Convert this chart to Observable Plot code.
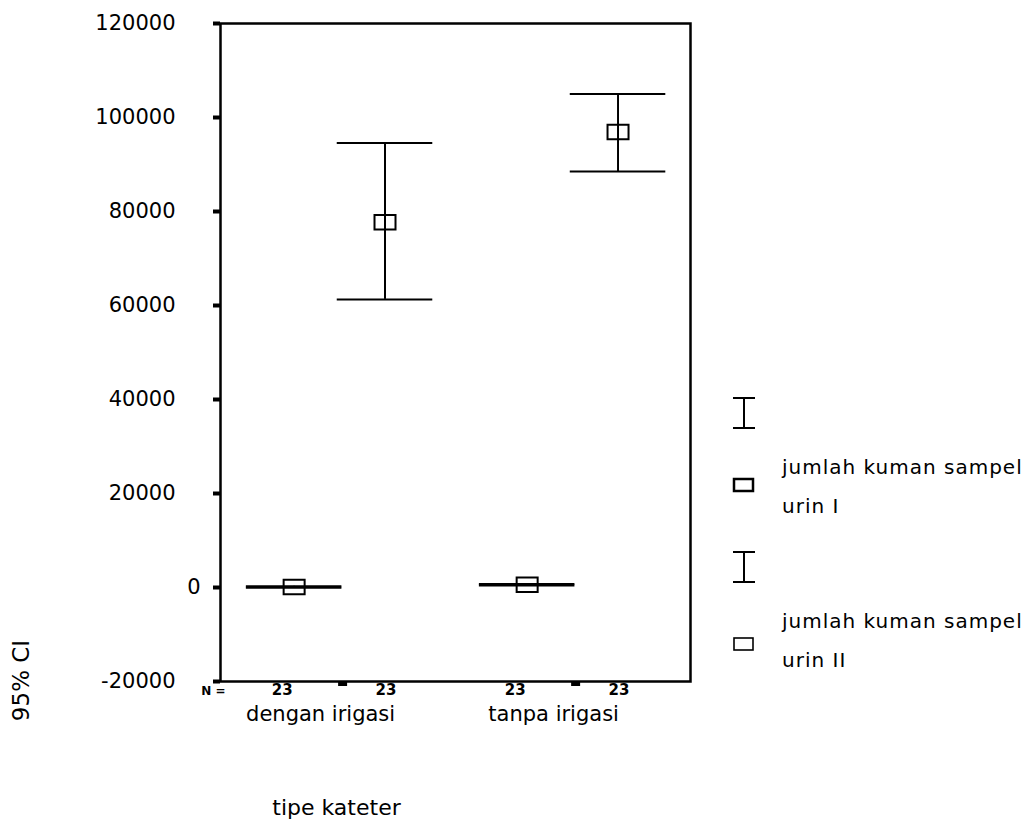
<!DOCTYPE html>
<html>
<head>
<meta charset="utf-8">
<script src="https://cdn.jsdelivr.net/npm/d3@7"></script>
<script src="https://cdn.jsdelivr.net/npm/@observablehq/plot@0.6"></script>
<style>
  html, body { margin: 0; padding: 0; background: #fff; }
  #chart svg { display: block; }
  #chart text { font-family: "DejaVu Sans", sans-serif; fill: #000; }
</style>
</head>
<body>
<div id="chart"></div>
<script>
// ---- data ----
const groups = ["dengan irigasi", "tanpa irigasi"];
const seriesNames = ["jumlah kuman sampel urin I", "jumlah kuman sampel urin II"];
const legendLines = [["jumlah kuman sampel", "urin I"], ["jumlah kuman sampel", "urin II"]];
const meanUrin1 = [100, 600];
const lowUrin1 = [-50, 450];
const highUrin1 = [250, 750];
const meanUrin2 = [77700, 96900];
const lowUrin2 = [61300, 88500];
const highUrin2 = [94600, 105000];
const nUrin1 = [23, 23];
const nUrin2 = [23, 23];
const yTicks = [-20000, 0, 20000, 40000, 60000, 80000, 100000, 120000];
const xAxisTitle = "tipe kateter";
const yAxisTitle = "95% CI";

// ---- build table ----
const rows = [];
groups.forEach((g, gi) => {
  rows.push({group: g, gi, si: 0, mean: meanUrin1[gi], low: lowUrin1[gi], high: highUrin1[gi], n: nUrin1[gi]});
  rows.push({group: g, gi, si: 1, mean: meanUrin2[gi], low: lowUrin2[gi], high: highUrin2[gi], n: nUrin2[gi]});
});
const seriesOffset = [-0.208, 0.182];
const pos = d => d.gi + 0.5 + seriesOffset[d.si];
const capHalf = 0.205;

const boxSymbol = {
  draw(ctx, size) {
    const r = Math.sqrt(size / Math.PI);
    ctx.rect(-1.05 * r, -0.72 * r, 2.1 * r, 1.44 * r);
  }
};

const W = 1032, H = 839;
const chart = Plot.plot({
  width: W,
  height: H,
  marginLeft: 220,
  marginRight: 342,
  marginTop: 23,
  marginBottom: 158,
  style: {background: "white", color: "black", fontFamily: "DejaVu Sans, sans-serif"},
  x: {type: "linear", domain: [-0.024, 1.993], axis: null},
  y: {domain: [-20000, 120000], axis: null},
  marks: [
    Plot.frame({stroke: "black", strokeWidth: 2.5}),
    // y axis ticks + labels
    Plot.axisY({ticks: yTicks, tickSize: 7, strokeWidth: 4, text: null, label: null}),
    Plot.axisY({ticks: yTicks.filter(t => t !== 0), tickSize: 0, tickPadding: 45, fontSize: 21,
                letterSpacing: "0.5px", tickFormat: d => String(d), label: null}),
    Plot.axisY({ticks: [0], tickSize: 0, tickPadding: 20, fontSize: 21, tickFormat: d => String(d), label: null}),
    // x axis ticks + category labels
    Plot.axisX({ticks: [0.5, 1.5], tickSize: 5, strokeWidth: 9, text: null, label: null}),
    Plot.axisX({ticks: [0.5, 1.5], tickSize: 0, tickPadding: 25, fontSize: 21, dx: -22,
                letterSpacing: "0.4px", tickFormat: v => groups[Math.round(v - 0.5)], label: null}),
    // error bars
    Plot.ruleX(rows, {x: pos, y1: "low", y2: "high", stroke: "black", strokeWidth: 2}),
    Plot.ruleY(rows, {y: "high", x1: d => pos(d) - capHalf, x2: d => pos(d) + capHalf, stroke: "black", strokeWidth: 2}),
    Plot.ruleY(rows, {y: "low", x1: d => pos(d) - capHalf, x2: d => pos(d) + capHalf, stroke: "black", strokeWidth: 2}),
    Plot.dot(rows, {x: pos, y: "mean", symbol: boxSymbol, r: 10, fill: "none", stroke: "black", strokeWidth: 2}),
    // N labels
    Plot.text(["N ="], {frameAnchor: "bottom-left", textAnchor: "middle", dx: -7, dy: 13, fontSize: 12, fontWeight: "bold"}),
    Plot.text(rows.filter(d => d.si === 0), {x: pos, text: d => String(d.n), frameAnchor: "bottom", dx: -12, dy: 13, fontSize: 15, fontWeight: "bold"}),
    Plot.text(rows.filter(d => d.si === 1), {x: pos, text: d => String(d.n), frameAnchor: "bottom", dx: 1, dy: 13, fontSize: 15, fontWeight: "bold"}),
    // axis titles
    Plot.text([xAxisTitle], {frameAnchor: "bottom-left", textAnchor: "middle", dx: 116, dy: 133, fontSize: 22, letterSpacing: "0.3px"}),
    Plot.text([yAxisTitle], {frameAnchor: "bottom-left", textAnchor: "middle", rotate: -90, dx: -192, dy: -1, fontSize: 23})
  ]
});
document.getElementById("chart").appendChild(chart);

// ---- legend (right side) ----
const svg = d3.select(chart);
const lg = svg.append("g").attr("class", "legend");
const legendTop = [398, 552];
const boxOffset = [81, 86];
seriesNames.forEach((name, i) => {
  const t = legendTop[i];
  const g = lg.append("g").attr("aria-label", name);
  const cx = 744;
  // error bar icon
  g.append("line").attr("x1", cx).attr("x2", cx).attr("y1", t).attr("y2", t + 30).attr("stroke", "black").attr("stroke-width", 2);
  g.append("line").attr("x1", cx - 11).attr("x2", cx + 11).attr("y1", t).attr("y2", t).attr("stroke", "black").attr("stroke-width", 2);
  g.append("line").attr("x1", cx - 11).attr("x2", cx + 11).attr("y1", t + 30).attr("y2", t + 30).attr("stroke", "black").attr("stroke-width", 2);
  // mean box icon
  g.append("rect").attr("x", cx - 10).attr("y", t + boxOffset[i]).attr("width", 19).attr("height", 12)
    .attr("fill", "none").attr("stroke", "black").attr("stroke-width", i === 0 ? 2.5 : 1.6);
  // text
  g.append("text").attr("x", 782).attr("y", t + 76).attr("text-anchor", "start")
    .attr("font-size", 20).attr("letter-spacing", "1px").text(legendLines[i][0]);
  g.append("text").attr("x", 782).attr("y", t + 115).attr("text-anchor", "start")
    .attr("font-size", 20).attr("letter-spacing", "1px").text(legendLines[i][1]);
});
</script>
</body>
</html>
